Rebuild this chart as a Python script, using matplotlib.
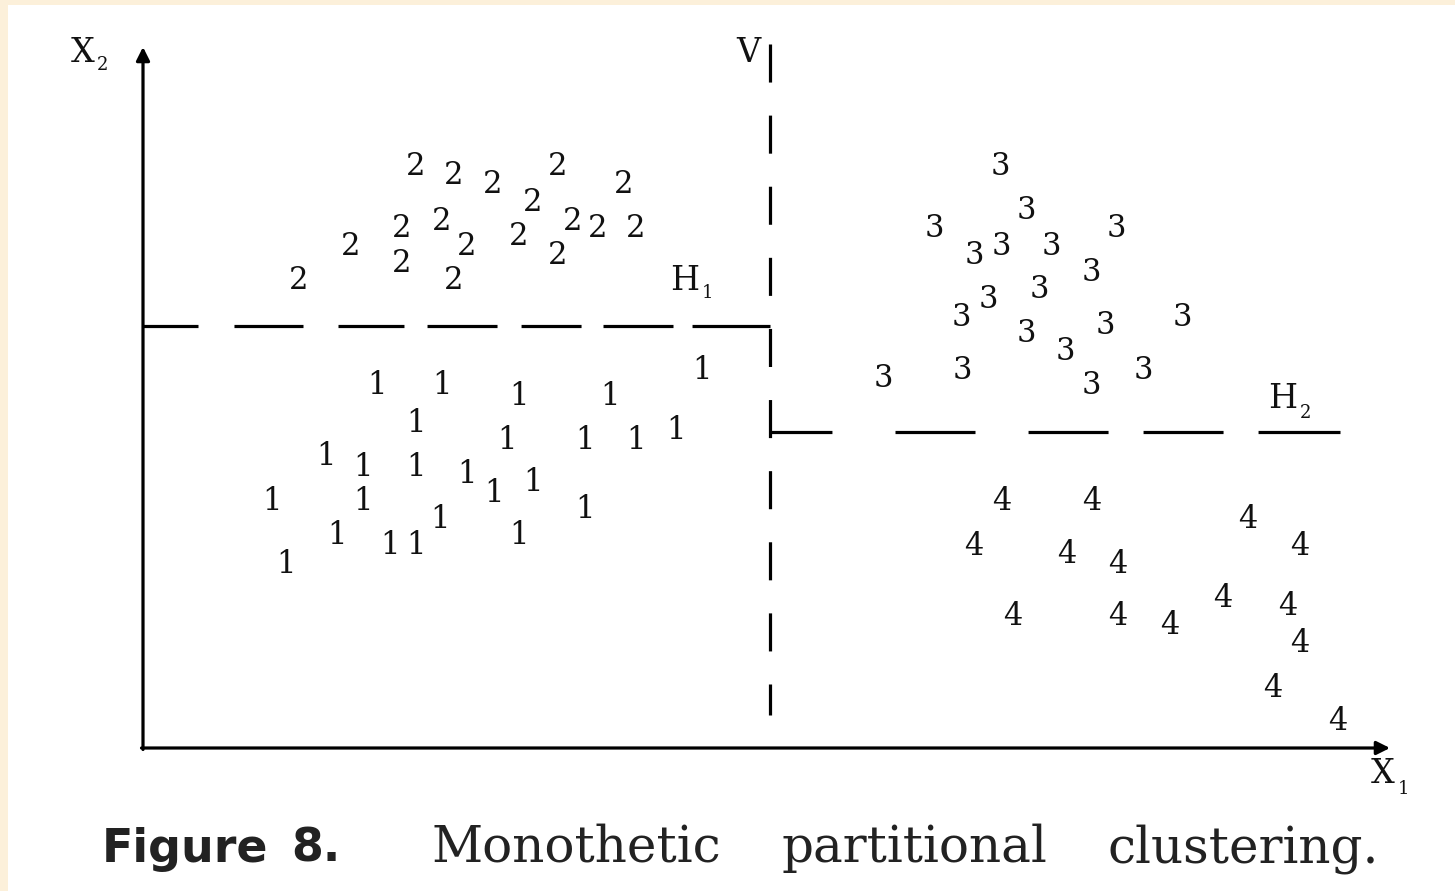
"""Monothetic partitional clustering: four groups split by one vertical and
two horizontal thresholds on the feature axes X1 / X2."""

import matplotlib
matplotlib.use("Agg")
import matplotlib.pyplot as plt
from matplotlib.patches import Rectangle

plt.rcParams['lines.scale_dashes'] = False

# ---- cluster members (x1, x2), one pair of lists per cluster label ----------
c1_x1 = [234, 299, 376, 467, 559, 273, 364, 442, 493, 533, 183, 220, 273,
         324, 351, 390, 129, 220, 442, 297, 194, 247, 273, 376, 143]
c1_x2 = [365, 365, 354, 354, 380, 327, 310, 310, 310, 320, 294, 283, 283,
         276, 257, 268, 249, 249, 241, 231, 215, 205, 205, 215, 186]

c2_x1 = [273, 311, 350, 415, 481, 390, 299, 259, 430, 455, 493, 208, 324,
         376, 259, 415, 311, 156]
c2_x2 = [584, 575, 566, 584, 566, 548, 529, 522, 529, 522, 522, 504, 504,
         514, 487, 495, 470, 470]

c3_x1 = [857, 883, 791, 973, 831, 858, 908, 948, 896, 845, 818, 883, 962,
         1039, 922, 819, 740, 1000, 948]
c3_x2 = [584, 540, 522, 522, 495, 504, 504, 478, 461, 451, 433, 417, 425,
         433, 399, 380, 372, 380, 365]

c4_x1 = [859, 949, 1105, 831, 924, 975, 1157, 870, 975, 1027, 1080, 1145,
         1157, 1130, 1195]
c4_x2 = [249, 249, 231, 204, 196, 186, 204, 134, 134, 125, 152, 144, 107,
         62, 29]

clusters = [("1", c1_x1, c1_x2), ("2", c2_x1, c2_x2),
            ("3", c3_x1, c3_x2), ("4", c4_x1, c4_x2)]

# ---- split thresholds ------------------------------------------------------
v_split = 627      # X1 threshold (V)
h1_split = 422     # X2 threshold left of V (H1)
h2_split = 316     # X2 threshold right of V (H2)
x1_max = 1247
x2_max = 701

#===============================================================================
# Figure
#===============================================================================
fig = plt.figure(figsize=(14.55, 8.91), dpi=100, facecolor='#FCF0DA')
fig.add_artist(Rectangle((8 / 1455, 0), 1, 1 - 5 / 891, transform=fig.transFigure,
                         facecolor='white', edgecolor='none', zorder=0))

ax = fig.add_axes([0, 0, 1, 1])
ax.set_xlim(-143, 1312)
ax.set_ylim(-143, 748)
ax.axis('off')
ax.patch.set_alpha(0)

serif = 'DejaVu Serif'
ink = '#111111'

# axes with arrow heads
arrow = dict(arrowstyle='-|>', lw=2.3, color='black', mutation_scale=20,
             shrinkA=0, shrinkB=0)
ax.annotate('', xy=(0, x2_max), xytext=(0, -1.5), arrowprops=arrow)
ax.annotate('', xy=(x1_max, 0), xytext=(-1.5, 0), arrowprops=arrow)

# partition lines (dash lengths in points)
ax.plot([v_split, v_split], [704, 33], color='black', lw=2.3,
        dashes=(27.4, 23.8), dash_capstyle='butt')
ax.plot([0, v_split], [h1_split, h1_split], color='black', lw=2.3,
        dashes=(39.6, 25.9, 49.7, 25.2, 47.5, 16.6, 50.4, 17.3,
                43.2, 15.8, 50.4, 13.7, 62, 5),
        dash_capstyle='butt')
ax.plot([v_split, 1197], [h2_split, h2_split], color='black', lw=2.3,
        dashes=(44.6, 45.4, 57.6, 38.2, 57.6, 25.2, 57.6, 25.2, 60, 5),
        dash_capstyle='butt')

# cluster members drawn as their labels
for lab, xs, ys in clusters:
    for x, y in zip(xs, ys):
        ax.text(x, y - 11, lab, ha='center', va='baseline', fontsize=22,
                family=serif, color=ink)

# axis / split labels
def sub_label(x, y, main, sub, dx, dy):
    ax.text(x, y, main, ha='left', va='baseline', fontsize=24,
            family=serif, color=ink)
    ax.text(x + dx, y + dy, sub, ha='left', va='baseline', fontsize=13,
            family=serif, color=ink)

sub_label(-72, 686, 'X', '2', 26, -8)
sub_label(1228, -35, 'X', '1', 27, -11)
sub_label(527, 458, 'H', '1', 32, -8)
sub_label(1125, 340, 'H', '2', 32, -10)
ax.text(593, 686, 'V', ha='left', va='baseline', fontsize=24,
        family=serif, color=ink)

# caption
ax.text(42, -114, 'Figure', ha='center', va='baseline', fontsize=33,
        family='DejaVu Sans', weight='bold', color='#222222')
ax.text(173, -114, '8.', ha='center', va='baseline', fontsize=33,
        family='DejaVu Sans', weight='bold', color='#222222')
for word, cx in [('Monothetic', 433), ('partitional', 771), ('clustering.', 1100)]:
    ax.text(cx, -114, word, ha='center', va='baseline', fontsize=36,
            family=serif, color='#222222')

fig.savefig('out.png', dpi=100, facecolor=fig.get_facecolor())
